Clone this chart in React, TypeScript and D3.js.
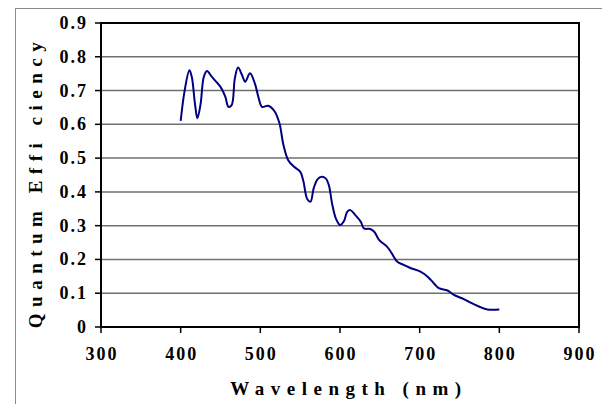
import React, {useEffect, useRef} from 'react'
import * as d3 from 'd3'

// wavelength in nm
const wavelength = [400, 405, 411, 414, 418, 421, 425, 429, 433, 439, 445, 450, 456, 460, 464, 468, 472, 477,
  481, 487, 493, 498, 502, 510, 518, 524, 529, 535, 542, 550, 554, 559, 563, 567, 572, 577, 582, 586, 590,
  595, 600, 605, 609, 613, 619, 626, 630, 638, 643, 649, 659, 665, 672, 680, 689, 701, 710, 718, 724, 735,
  743, 756, 764, 775, 785, 800];
const efficiency = [0.61, 0.70, 0.76, 0.74, 0.66, 0.618, 0.66, 0.74, 0.758, 0.741, 0.725, 0.711, 0.682, 0.652,
  0.657, 0.736, 0.768, 0.746, 0.726, 0.751, 0.722, 0.677, 0.652, 0.655, 0.638, 0.603, 0.539, 0.494, 0.475,
  0.46, 0.432, 0.378, 0.371, 0.411, 0.438, 0.445, 0.44, 0.42, 0.366, 0.32, 0.302, 0.314, 0.341, 0.346, 0.332,
  0.312, 0.292, 0.29, 0.282, 0.258, 0.238, 0.218, 0.193, 0.184, 0.174, 0.164, 0.149, 0.129, 0.115, 0.108,
  0.095, 0.082, 0.072, 0.06, 0.052, 0.052];

const xTicks = [300, 400, 500, 600, 700, 800, 900];
const yTicks = [0, 0.1, 0.2, 0.3, 0.4, 0.5, 0.6, 0.7, 0.8, 0.9];

const xTitle = 'Wavelength (nm)';
const yTitle = 'Quantum Effi ciency';

const FONT = '"Liberation Serif", "Times New Roman", serif';

const App = () => {
  const ref = useRef<SVGSVGElement>(null);
  const width = 602, height = 404;
  const margin = {top: 23, right: 23, bottom: 77, left: 101};

  useEffect(() => {
    const svg = d3.select(ref.current);
    svg.selectAll('*').remove();

    const x = d3.scaleLinear().domain([300, 900]).range([margin.left, width - margin.right]);
    const y = d3.scaleLinear().domain([0, 0.9]).range([height - margin.bottom, margin.top]);

    // outer chart area border
    svg.append('rect')
      .attr('x', 15.5).attr('y', 8.5)
      .attr('width', 700).attr('height', 500)
      .attr('fill', 'white')
      .attr('stroke', '#8a8a8a');

    // gridlines
    svg.append('g')
      .selectAll('line')
      .data(yTicks.slice(1, -1))
      .enter()
      .append('line')
      .attr('x1', x(300)).attr('x2', x(900))
      .attr('y1', d => y(d)).attr('y2', d => y(d))
      .attr('stroke', '#707070')
      .attr('stroke-width', 1.5);

    // plot frame
    svg.append('rect')
      .attr('x', x(300)).attr('y', y(0.9))
      .attr('width', x(900) - x(300)).attr('height', y(0) - y(0.9))
      .attr('fill', 'none')
      .attr('stroke', 'black')
      .attr('stroke-width', 2);

    // y axis ticks + labels
    const yAxis = svg.append('g');
    yAxis.selectAll('line')
      .data(yTicks)
      .enter()
      .append('line')
      .attr('x1', x(300) - 6).attr('x2', x(300))
      .attr('y1', d => y(d)).attr('y2', d => y(d))
      .attr('stroke', 'black')
      .attr('stroke-width', 1.5);
    yAxis.selectAll('text')
      .data(yTicks)
      .enter()
      .append('text')
      .attr('x', 88)
      .attr('y', d => y(d) + 6)
      .attr('text-anchor', 'end')
      .style('font-family', FONT)
      .style('font-weight', 'bold')
      .style('font-size', '18px')
      .style('letter-spacing', '2px')
      .text(d => d === 0 ? '0' : d3.format('.1f')(d));

    // x axis ticks + labels
    const xAxis = svg.append('g');
    xAxis.selectAll('line')
      .data(xTicks)
      .enter()
      .append('line')
      .attr('x1', d => x(d)).attr('x2', d => x(d))
      .attr('y1', y(0)).attr('y2', y(0) + 6)
      .attr('stroke', 'black')
      .attr('stroke-width', 1.5);
    xAxis.selectAll('text')
      .data(xTicks)
      .enter()
      .append('text')
      .attr('x', d => x(d) + 1)
      .attr('y', 360)
      .attr('text-anchor', 'middle')
      .style('font-family', FONT)
      .style('font-weight', 'bold')
      .style('font-size', '18px')
      .style('letter-spacing', '2px')
      .text(d => d);

    // curve
    const line = d3.line<number>()
      .x((d, i) => x(wavelength[i]))
      .y(d => y(d))
      .curve(d3.curveCatmullRom);

    svg.append('path')
      .datum(efficiency)
      .attr('fill', 'none')
      .attr('stroke', '#000080')
      .attr('stroke-width', 2)
      .attr('d', line);

    // axis titles
    svg.append('text')
      .attr('x', 349)
      .attr('y', 395)
      .attr('text-anchor', 'middle')
      .style('font-family', FONT)
      .style('font-weight', 'bold')
      .style('font-size', '19px')
      .style('letter-spacing', '6.5px')
      .text(xTitle);

    svg.append('text')
      .attr('transform', 'translate(42,182) rotate(-90)')
      .attr('text-anchor', 'middle')
      .style('font-family', FONT)
      .style('font-weight', 'bold')
      .style('font-size', '19px')
      .style('letter-spacing', '6.5px')
      .text(yTitle);
  }, []);

  return (
    <svg ref={ref} width={width} height={height}
      style={{position: 'absolute', left: 0, top: 0, background: 'white'}}>
    </svg>
  )
};

export default App
